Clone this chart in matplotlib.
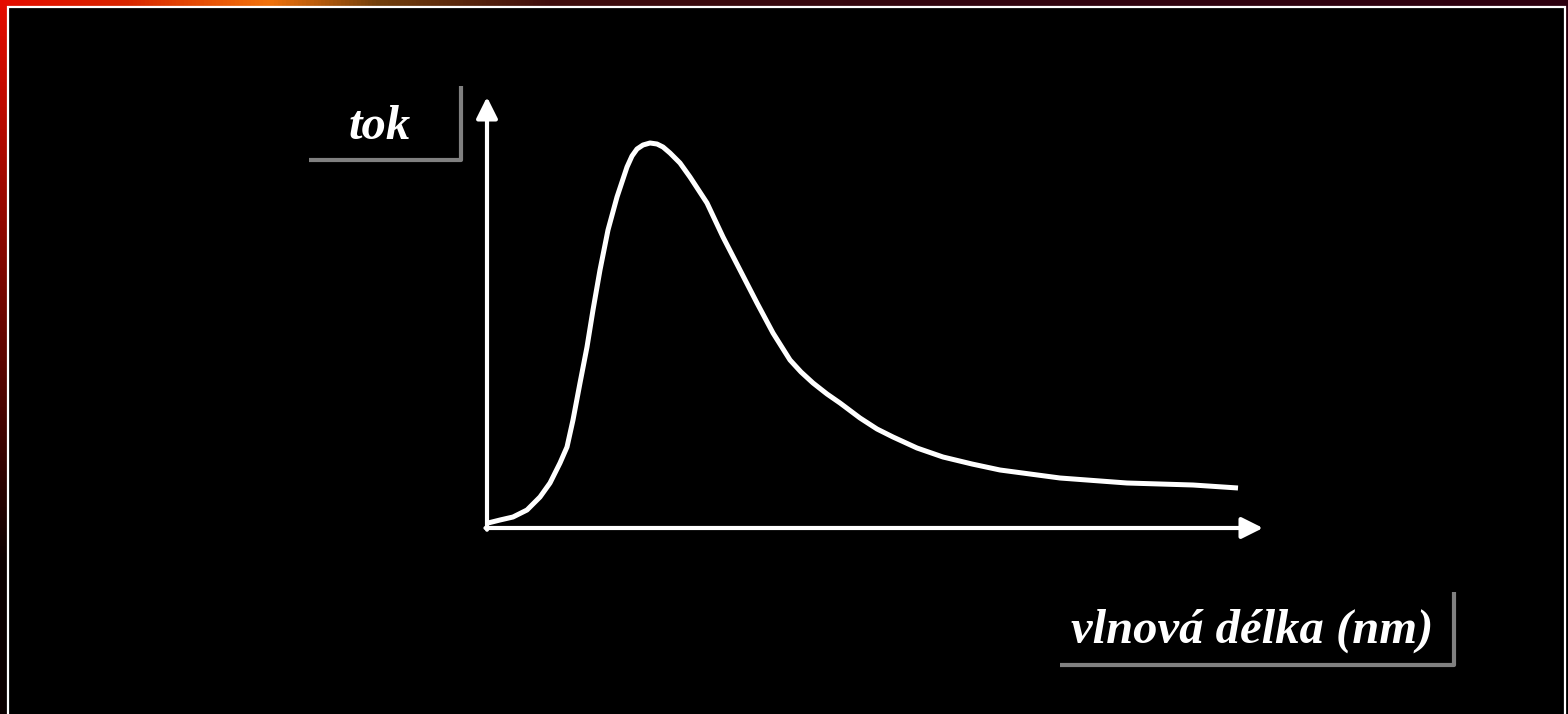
import numpy as np
import matplotlib
matplotlib.use("Agg")
import matplotlib.pyplot as plt
from matplotlib.patches import Rectangle

# ---- data (arbitrary units: wavelength vs flux) ----
wavelength = [1, 13, 26, 40, 53, 63, 73, 80, 86, 93, 100, 106, 113, 121, 130,
              140, 145, 150, 156, 163, 170, 176, 183, 193, 203, 220, 236, 253,
              270, 286, 303, 314, 326, 340, 353, 373, 390, 406, 430, 456, 485,
              513, 573, 640, 706, 751]
flux = [5, 8, 11, 18, 31, 45, 65, 81, 108, 145, 181, 218, 258, 298, 331,
        361, 372, 379, 383, 385, 384, 381, 375, 365, 351, 325, 291, 258,
        225, 195, 168, 156, 145, 134, 125, 110, 99, 91, 80, 71, 64,
        58, 50, 45, 43, 40]
x_label = "vlnová délka (nm)"
y_label = "tok"

W, H = 1568, 714
fig = plt.figure(figsize=(W / 100, H / 100), dpi=100)
fig.patch.set_facecolor("black")

# ---- decorative background (slide frame) ----
bg = fig.add_axes([0, 0, 1, 1])
bg.set_xlim(0, W)
bg.set_ylim(H, 0)
bg.axis("off")

xs = np.linspace(0, 1, 400)
ys = np.linspace(0, 1, 200)
X, Y = np.meshgrid(xs, ys)
stops_x = [0.0, 0.08, 0.17, 0.24, 0.35, 0.6, 1.0]
r_s = [0.90, 0.85, 0.95, 0.45, 0.25, 0.20, 0.18]
g_s = [0.05, 0.15, 0.45, 0.25, 0.05, 0.02, 0.00]
b_s = [0.00, 0.00, 0.05, 0.05, 0.05, 0.06, 0.06]
R = np.interp(X, stops_x, r_s)
G = np.interp(X, stops_x, g_s)
B = np.interp(X, stops_x, b_s)
fade = np.clip(1 - Y * 1.2, 0.05, 1)
img = np.dstack([R * fade, G * fade, B * fade])
bg.imshow(img, extent=[0, W, H, 0], aspect="auto", zorder=0)
bg.add_patch(Rectangle((8, 7), 1557, 720, facecolor="black",
                       edgecolor="white", lw=1.6, zorder=1))

gray = "#808080"
bg.plot([309, 461, 461], [160, 160, 86], color=gray, lw=3, solid_capstyle="butt", zorder=2)
bg.plot([1060, 1454, 1454], [665, 665, 592], color=gray, lw=3, solid_capstyle="butt", zorder=2)
bg.text(380, 127, y_label, color="white", fontsize=35, fontweight="bold",
        fontstyle="italic", family="Liberation Serif", ha="center", va="center", zorder=3)
bg.text(1252, 631, x_label, color="white", fontsize=35, fontweight="bold",
        fontstyle="italic", family="Liberation Serif", ha="center", va="center", zorder=3)

# ---- chart axes ----
x0, y0, x1, y1 = 487, 528, 1263, 97
ax = fig.add_axes([x0 / W, (H - y0) / H, (x1 - x0) / W, (y0 - y1) / H])
ax.set_facecolor("none")
ax.set_xlim(0, x1 - x0)
ax.set_ylim(0, y0 - y1)
for s in ax.spines.values():
    s.set_visible(False)
ax.set_xticks([])
ax.set_yticks([])

ax.plot(wavelength, flux, color="white", lw=3.6, solid_capstyle="butt",
        solid_joinstyle="round", zorder=3)

arrow = dict(arrowstyle="-|>,head_length=0.8,head_width=0.4", color="white",
             lw=3, mutation_scale=16, shrinkA=0, shrinkB=0)
ax.annotate("", xy=(1, 0), xytext=(-0.002, 0), xycoords="axes fraction",
            arrowprops=arrow, annotation_clip=False)
ax.annotate("", xy=(0, 1), xytext=(0, -0.004), xycoords="axes fraction",
            arrowprops=arrow, annotation_clip=False)

fig.savefig("out.png", dpi=100, facecolor="black")
